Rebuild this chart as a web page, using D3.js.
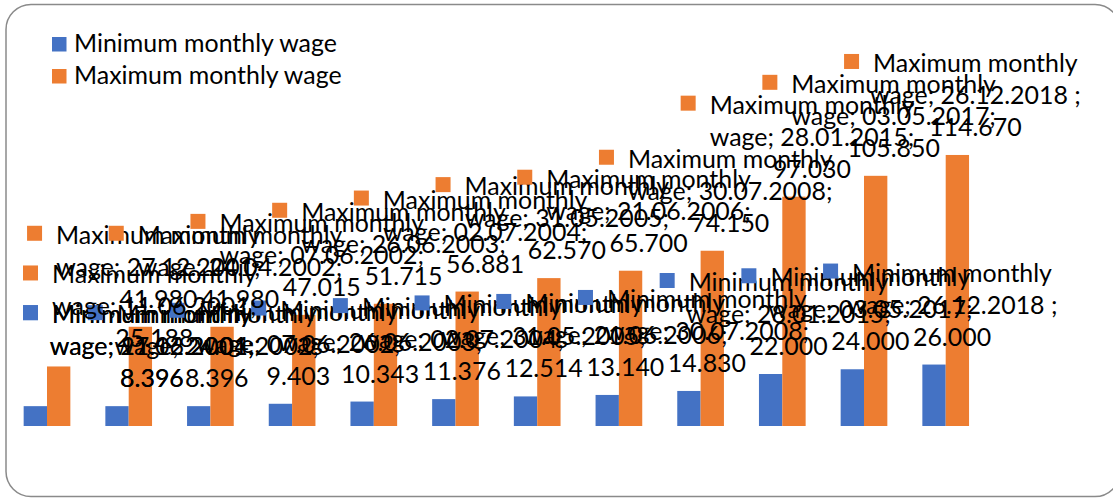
<!DOCTYPE html>
<html>
<head>
<meta charset="utf-8">
<script src="https://cdn.jsdelivr.net/npm/d3@7"></script>
<style>
  body { margin: 0; background: #fff; }
  svg { display: block; }
  text { font-family: Lato, "Noto Sans", sans-serif; fill: #000; }
</style>
</head>
<body>
<svg id="chart" width="1113" height="498"></svg>
<script>
// Dates on which the wage levels were set
const dates = ["11.06.2001", "27.12.2001", "24.04.2002", "07.06.2002", "26.06.2003", "02.07.2004",
               "31.05.2005", "21.06.2006", "30.07.2008", "28.01.2015", "03.05.2017", "26.12.2018 "];
const minWage = [8.396, 8.396, 8.396, 9.403, 10.343, 11.376, 12.514, 13.140, 14.830, 22.000, 24.000, 26.000];
const maxWage = [25.188, 41.980, 41.980, 47.015, 51.715, 56.881, 62.570, 65.700, 74.150, 97.030, 105.850, 114.670];
const seriesNames = ["Minimum monthly wage", "Maximum monthly wage"];
const seriesColors = ["#4472C4", "#ED7D31"];

const series = [
  { name: seriesNames[0], color: seriesColors[0], values: minWage },
  { name: seriesNames[1], color: seriesColors[1], values: maxWage }
];

const svg = d3.select("#chart");

// rounded chart frame
svg.append("rect")
  .attr("x", 6).attr("y", 4.5).attr("width", 1114).attr("height", 492)
  .attr("rx", 25).attr("ry", 25)
  .attr("fill", "#fff").attr("stroke", "#8a8a8a").attr("stroke-width", 1.5);

// font size so that the label text runs at the chart's width
const probe = svg.append("text").attr("font-size", 100).text("Minimum monthly wage");
const fontSize = 100 * 263 / probe.node().getComputedTextLength();
probe.remove();

// scales: clustered columns, gap width 150%
const x = d3.scaleBand().domain(dates).range([6.15, 986.55])
  .paddingInner(3 / 7).paddingOuter(1.5 / 7);
const xs = d3.scaleBand().domain(series.map(s => s.name)).range([0, x.bandwidth()]);
const y = d3.scaleLinear().domain([0, 140]).range([426, 95.1]);

const fmt = d3.format(".3f");

// columns
series.forEach(s => {
  svg.append("g").selectAll("rect")
    .data(s.values.map((v, i) => ({ v, d: dates[i] })))
    .join("rect")
    .attr("x", p => x(p.d) + xs(s.name))
    .attr("y", p => y(p.v))
    .attr("width", xs.bandwidth())
    .attr("height", p => y(0) - y(p.v))
    .attr("fill", s.color);
});

// data labels: legend key, series name, category and value, wrapped on three lines
const lineGap = 32, keySize = 15, keyGap = 29, labelShift = 18, minLeft = 23;
series.forEach(s => {
  const words = s.name.split(" ");
  const layer = svg.append("g");
  s.values.forEach((v, i) => {
    const d = dates[i];
    const bx = x(d) + xs(s.name) + xs.bandwidth() / 2;
    const top = y(v);
    const lines = [words.slice(0, -1).join(" "), words[words.length - 1] + "; " + d + ";", fmt(v)];
    const g = layer.append("g");
    const texts = lines.map((t, k) => g.append("text")
      .attr("font-size", fontSize)
      .attr("text-anchor", "middle")
      .attr("y", top - 19 - (2 - k) * lineGap)
      .text(t));
    const widths = texts.map(t => t.node().getComputedTextLength());
    let cx = bx + labelShift;
    let keyLeft = cx - widths[0] / 2 - keyGap;
    const boxLeft = Math.min(keyLeft, cx - d3.max(widths) / 2);
    const shift = boxLeft < minLeft ? minLeft - boxLeft : 0;
    cx += shift; keyLeft += shift;
    texts.forEach(t => t.attr("x", cx));
    g.insert("rect", "text")
      .attr("x", keyLeft).attr("y", top - 19 - 2 * lineGap - 18)
      .attr("width", keySize).attr("height", keySize)
      .attr("fill", s.color);
  });
});

// legend
const legend = svg.append("g");
series.forEach((s, k) => {
  legend.append("rect")
    .attr("x", 52).attr("y", 37 + k * 32)
    .attr("width", 14.5).attr("height", 14.5)
    .attr("fill", s.color);
  legend.append("text")
    .attr("x", 74).attr("y", 52 + k * 32)
    .attr("font-size", fontSize)
    .text(s.name);
});
</script>
</body>
</html>
